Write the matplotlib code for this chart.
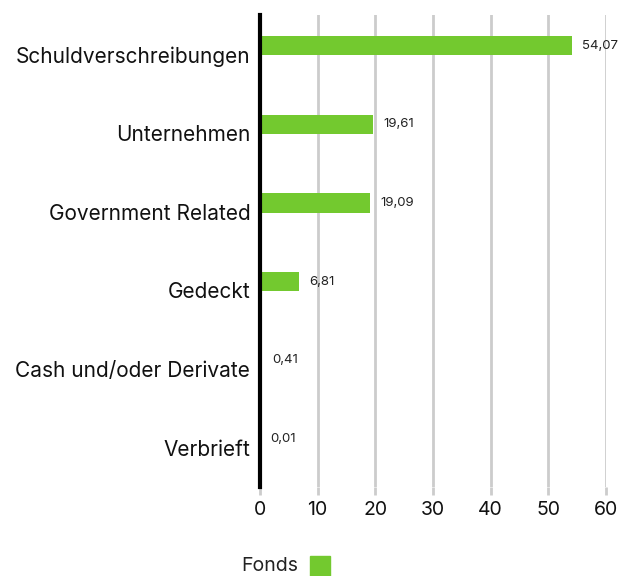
import matplotlib
matplotlib.use("Agg")
import matplotlib.pyplot as plt
from matplotlib.patches import Rectangle

plt.rcParams["font.family"] = ["Inter", "DejaVu Sans"]

categories = ["Schuldverschreibungen", "Unternehmen", "Government Related",
              "Gedeckt", "Cash und/oder Derivate", "Verbrieft"]
fonds = [54.07, 19.61, 19.09, 6.81, 0.41, 0.01]
value_labels = ["54,07", "19,61", "19,09", "6,81", "0,41", "0,01"]
x_ticks = [0, 10, 20, 30, 40, 50, 60]
series_name = "Fonds"

green = "#73C92F"

fig = plt.figure(figsize=(6.19, 5.76), dpi=100)
ax = fig.add_axes([260 / 619, 1 - 487 / 576, 346 / 619, 472 / 576])

pos = list(range(len(categories)))
bar_pos = [p - 0.11 for p in pos]
ax.barh(bar_pos, fonds, height=0.245, color=green, zorder=3)

for y, v, lab in zip(bar_pos, fonds, value_labels):
    ax.text(v + 1.7, y, lab, va="center", ha="left", fontsize=9.5, color="#222222", zorder=4)

ax.set_xlim(0, 60)
ax.set_ylim(len(categories) - 0.5, -0.5)
ax.set_yticks(pos)
ax.set_yticklabels(categories, fontsize=15, color="#111111")
ax.set_xticks(x_ticks)
ax.set_xticklabels([str(t) for t in x_ticks], fontsize=14, color="#111111")

ax.grid(axis="x", color="#cccccc", linewidth=2, zorder=0)
ax.tick_params(axis="y", length=0, pad=7)
ax.tick_params(axis="x", length=6, width=2, color="#cccccc", pad=4)

for s in ["top", "right", "bottom"]:
    ax.spines[s].set_visible(False)
ax.spines["left"].set_linewidth(3)
ax.spines["left"].set_color("black")
ax.spines["left"].set_zorder(5)

# legend
fig.text(241 / 619, 1 - 571 / 576, series_name, fontsize=14, color="#222222",
         ha="left", va="baseline")
fig.patches.append(Rectangle((310 / 619, 0), 20 / 619, 20 / 576,
                             transform=fig.transFigure, color=green))

fig.savefig("out.png", dpi=100)
